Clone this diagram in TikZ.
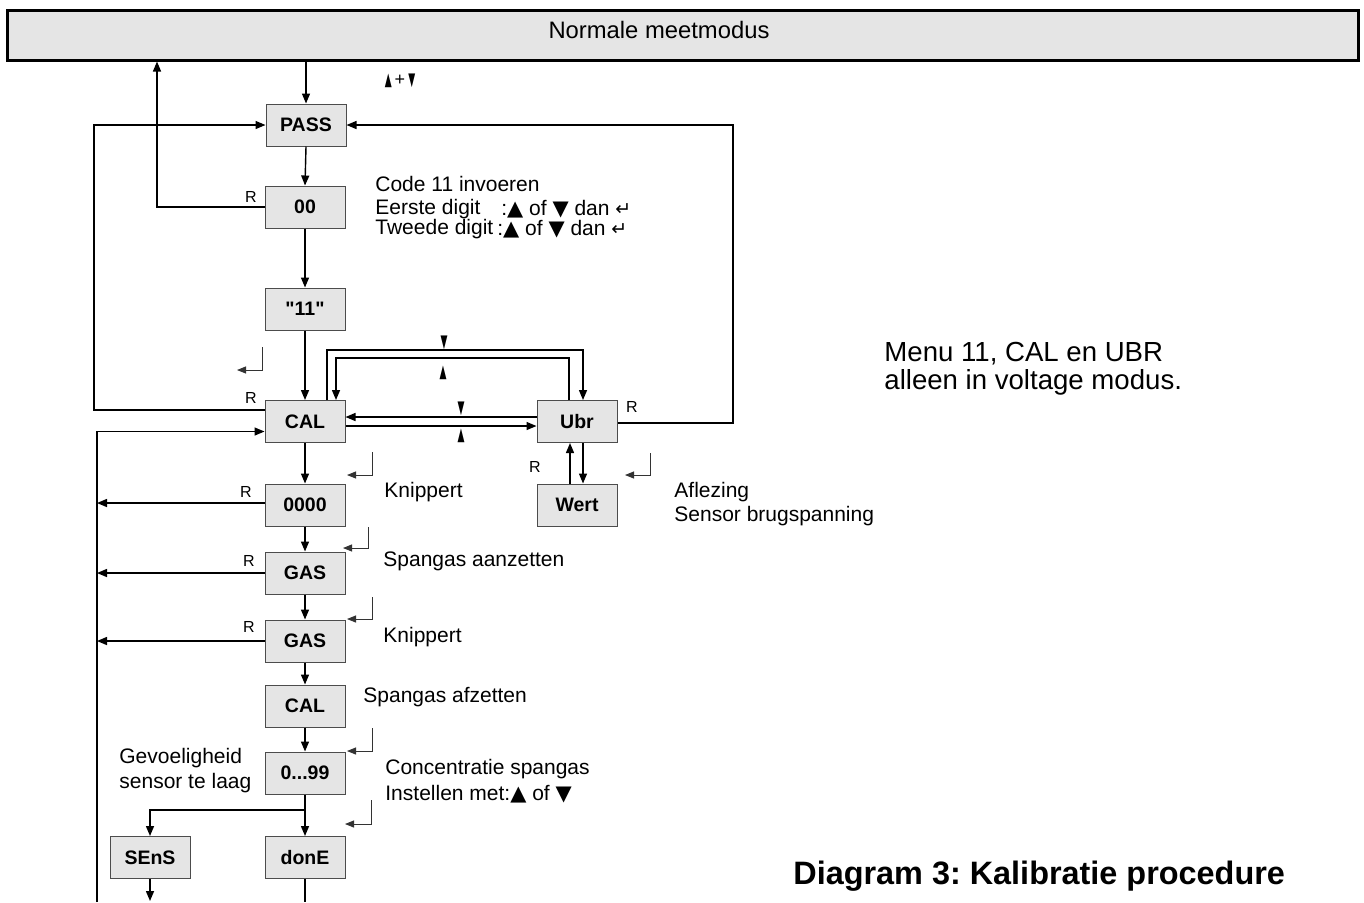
\documentclass[tikz,border=0pt]{standalone}
\usepackage{fontspec}
\usepackage{graphicx}
\setmainfont{Liberation Sans}[Ligatures=TeXOff]
\newfontfamily\symf{DejaVu Sans}
\usetikzlibrary{arrows.meta}
\frenchspacing
\newcommand\mydn{\scalebox{0.5}[1]{\symf ▼}}
\newcommand\myup{\scalebox{0.5}[1]{\symf ▲}}
\newcommand\ent{{\symf\fontsize{9.5}{9.5}\selectfont ↵}}
\begin{document}
\begin{tikzpicture}[x=0.5pt,y=-0.5pt,
 box/.style={draw=black!70, fill=black!10, line width=0.5pt, minimum width=40pt, minimum height=21pt, inner sep=0pt, font=\fontsize{9.75}{11}\selectfont\bfseries},
 con/.style={line width=0.7pt, draw=black},
 arr/.style={con, -{Triangle[length=5pt,width=4pt]}},
 entl/.style={line width=0.5pt, draw=black!80, -{Triangle[length=4.5pt,width=3.5pt]}},
 txt/.style={font=\fontsize{10.5}{12.5}\selectfont, inner sep=0pt, anchor=west, align=left},
 rl/.style={font=\fontsize{8}{9}\selectfont, inner sep=0pt},
 tri/.style={font=\fontsize{9}{9}\selectfont, inner sep=0pt},
]
\useasboundingbox (0,0) rectangle (1364,902);
% top bar
\node[draw=black, fill=black!10, line width=1.5pt, minimum width=675.5pt, minimum height=25pt, inner sep=0pt] (bar) at (682.5,35) {};
\node[font=\fontsize{11.9}{13}\selectfont, inner sep=0pt] (bartxt) at (659,30) {Normale meetmodus};
% boxes
\node[box] (pass) at (306,125) {PASS};
\node[box] (c00) at (305,207) {00};
\node[box] (c11) at (305,309) {"11"};
\node[box] (cal) at (305,421.5) {CAL};
\node[box] (ubr) at (577,421.5) {Ubr};
\node[box] (z0) at (305,505) {0000};
\node[box] (wert) at (577,505) {Wert};
\node[box] (g1) at (305,573) {GAS};
\node[box] (g2) at (305,641) {GAS};
\node[box] (cal2) at (305,706) {CAL};
\node[box] (n99) at (305,773) {0...99};
\node[box] (done) at (305,857.5) {donE};
\node[box] (sens) at (150,857.5) {SEnS};
% helper coordinates
\coordinate (u1) at (157,0);
\coordinate (L1) at (94,410);
\coordinate (L2) at (97,902);
\coordinate (o1) at (327,350);
\coordinate (o2) at (583,350);
\coordinate (i1) at (569,358);
\coordinate (i2) at (336,358);
\coordinate (w1) at (570,0);
\coordinate (w2) at (583,0);
\coordinate (r1) at (733,125);
\coordinate (br) at (305,810);
\coordinate (sb) at (150,901);
\coordinate (db) at (305,902);
% main connectors
\draw[arr] (bar.south -| pass) -- (pass.north);
\draw[arr] (c00.west) -| (bar.south -| u1);
\draw[arr] (pass.south) -- (c00.north);
\draw[arr] (c00.south) -- (c11.north);
\draw[arr] (c11.south) -- (cal.north);
\draw[arr] (cal.west |- L1) -- (L1) |- (pass.west);
\draw[arr] (L2) |- ([yshift=-5pt]cal.west);
\draw[arr] ([yshift=2.25pt]ubr.west) -- ([yshift=2.25pt]cal.east);
\draw[arr] ([yshift=-2.25pt]cal.east) -- ([yshift=-2.25pt]ubr.west);
\draw[arr] (cal.north -| o1) -- (o1) -- (o2) -- (ubr.north -| o2);
\draw[arr] (ubr.north -| i1) -- (i1) -- (i2) -- (cal.north -| i2);
\draw[arr] (wert.north -| w1) -- (ubr.south -| w1);
\draw[arr] (ubr.south -| w2) -- (wert.north -| w2);
\draw[arr] ([yshift=-0.75pt]ubr.east) -| (r1) -- (pass.east);
\draw[arr] (cal.south) -- (z0.north);
\draw[arr] (z0.south) -- (g1.north);
\draw[arr] (g1.south) -- (g2.north);
\draw[arr] (g2.south) -- (cal2.north);
\draw[arr] (cal2.south) -- (n99.north);
\draw[arr] (n99.south) -- (done.north);
\draw[arr] (br) -| (sens.north);
\draw[arr] ([yshift=1pt]z0.west) -- ([yshift=1pt]z0.west -| L2);
\draw[arr] (g1.west) -- (g1.west -| L2);
\draw[arr] (g2.west) -- (g2.west -| L2);
\draw[arr] (sens.south) -- (sb);
\draw[con] (done.south) -- (db);
% enter symbols drawn as lines
\coordinate (e1) at (262,347); \draw[entl] (e1) |- (237,370);
\coordinate (e2) at (372,452); \draw[entl] (e2) |- (347,475);
\coordinate (e3) at (650,453); \draw[entl] (e3) |- (625,475);
\coordinate (e4) at (368,527); \draw[entl] (e4) |- (343,548);
\coordinate (e5) at (372,597); \draw[entl] (e5) |- (347,619);
\coordinate (e6) at (372,728); \draw[entl] (e6) |- (347,751);
\coordinate (e7) at (371,800); \draw[entl] (e7) |- (345,824);
% small triangles
\node[tri] (t0) at (400,81) {\myup\,+\,\mydn};
\node[tri] (t1) at (444,343) {\mydn};
\node[tri] (t2) at (443,373) {\myup};
\node[tri] (t3) at (461,409) {\mydn};
\node[tri] (t4) at (461,436) {\myup};
% R labels
\node[rl] (r00) at (251,197) {R};
\node[rl] (rcal) at (251,398) {R};
\node[rl] (rz0) at (246,492) {R};
\node[rl] (rg1) at (249,561) {R};
\node[rl] (rg2) at (249,627) {R};
\node[rl] (rubr) at (632,407) {R};
\node[rl] (rw) at (535,467) {R};
% texts
\node[txt] (code) at (375,184) {Code 11 invoeren};
\node[txt] (eer) at (375,209) {Eerste digit};
\node[txt] (eer2) at (501,209) {:{\symf ▲} of {\symf ▼} dan \ent};
\node[txt] (twe) at (375,229) {Tweede digit};
\node[txt] (twe2) at (497,229) {:{\symf ▲} of {\symf ▼} dan \ent};
\node[txt, font=\fontsize{13.8}{14}\selectfont] (menu) at (884,369) {Menu 11, CAL en UBR\\alleen in voltage modus.};
\node[txt] (kn1) at (384,492) {Knippert};
\node[txt, font=\fontsize{10.5}{12}\selectfont] (afl) at (674,504) {Aflezing\\Sensor brugspanning};
\node[txt] (sp1) at (383,561) {Spangas aanzetten};
\node[txt] (kn2) at (383,637) {Knippert};
\node[txt] (sp2) at (363,697) {Spangas afzetten};
\node[txt, font=\fontsize{10.5}{12.5}\selectfont] (gev) at (119,770.5) {Gevoeligheid\\sensor te laag};
\node[txt, font=\fontsize{10.5}{13}\selectfont] (conc) at (385,781) {Concentratie spangas\\Instellen met:{\symf ▲} of {\symf ▼}};
\node[txt, font=\fontsize{16.2}{19}\selectfont\bfseries] (title) at (793,876) {Diagram 3: Kalibratie procedure};
\end{tikzpicture}
\end{document}
